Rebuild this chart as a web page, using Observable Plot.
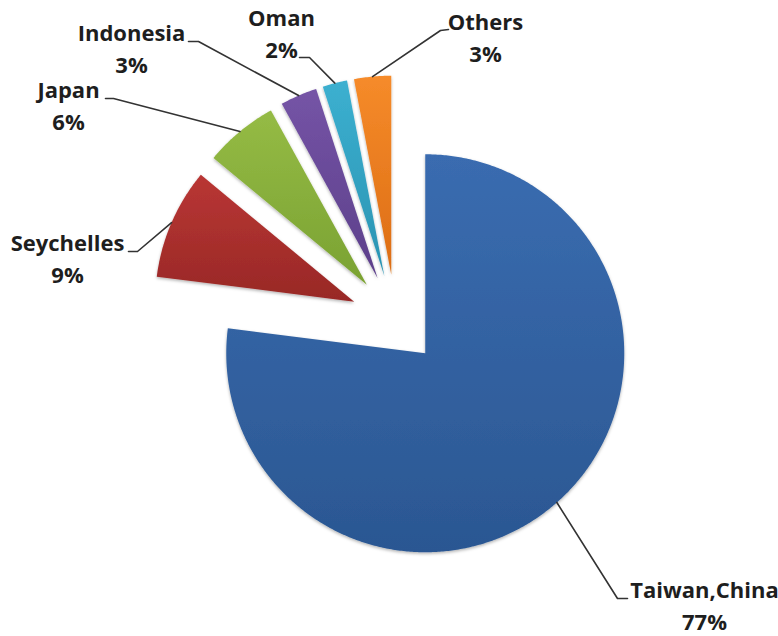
<!DOCTYPE html>
<html>
<head>
<meta charset="utf-8">
<script src="https://cdn.jsdelivr.net/npm/d3@7"></script>
<script src="https://cdn.jsdelivr.net/npm/@observablehq/plot@0.6"></script>
<style>
  html, body { margin: 0; padding: 0; background: #fff; }
  #chart { width: 778px; height: 636px; }
</style>
</head>
<body>
<div id="chart"></div>
<script>
// Share by origin (percent), drawn clockwise from 12 o'clock
const origins = ["Taiwan,China", "Seychelles", "Japan", "Indonesia", "Oman", "Others"];
const shares  = [77, 9, 6, 3, 2, 3];

// Slice shading: top and bottom colour of each vertical gradient
const topColors    = ["#3a6cb0", "#b93634", "#95bb45", "#7554a6", "#3cb0d0", "#f68b2a"];
const bottomColors = ["#2b5792", "#982826", "#7aa232", "#5c3f8a", "#2a93b2", "#dc6d14"];

// Label layout in page pixels: name line centre, and the leader's elbow / end next to the text
const labelX  = [704, 67, 68, 131, 281, 485];
const labelY  = [590, 243, 90, 33, 18, 22];
const elbowX  = [617, 137, 113, 198, 309, 440];
const elbowY  = [598, 251, 98, 41, 57, 30];
const attachX = [627, 128, 105, 188, 299, 448];
const attachY = [598, 251, 98, 41, 57, 29];

const W = 778, H = 636;
const cx = 395, cy = 319;      // pie centre on the page
const radius = 199;
const explode = 45;
const lineGap = 32;

const total = d3.sum(shares);
let acc = 0;
const slices = origins.map((name, i) => {
  const a0 = acc / total * 2 * Math.PI;
  acc += shares[i];
  const a1 = acc / total * 2 * Math.PI;
  const mid = (a0 + a1) / 2;
  return {name, value: shares[i], i, a0, a1, mid,
          ox: explode * Math.sin(mid), oy: explode * Math.cos(mid)};
});

// Polygon outline of each exploded wedge (y points up)
function wedge(s) {
  const pts = [{x: s.ox, y: s.oy}];
  const n = Math.max(4, Math.ceil((s.a1 - s.a0) * 180 / Math.PI * 2));
  for (let k = 0; k <= n; ++k) {
    const a = s.a0 + (s.a1 - s.a0) * k / n;
    pts.push({x: s.ox + radius * Math.sin(a), y: s.oy + radius * Math.cos(a)});
  }
  return pts;
}

const toX = (px) => px - cx;
const toY = (py) => cy - py;

const leaders = slices.flatMap((s) => {
  const ax = s.ox + radius * Math.sin(s.mid);
  const ay = s.oy + radius * Math.cos(s.mid);
  return [
    {name: s.name, x: ax, y: ay},
    {name: s.name, x: toX(elbowX[s.i]), y: toY(elbowY[s.i])},
    {name: s.name, x: toX(attachX[s.i]), y: toY(attachY[s.i])}
  ];
});

const labels = slices.map((s) => ({
  name: s.name,
  pct: `${s.value}%`,
  x: toX(labelX[s.i]),
  y: toY(labelY[s.i]),
  y2: toY(labelY[s.i] + lineGap)
}));

const textStyle = {fontSize: 22, fontWeight: "bold", fill: "#1e1e1e", textAnchor: "middle"};

const svg = Plot.plot({
  width: W,
  height: H,
  margin: 0,
  x: {domain: [-cx, W - cx], axis: null},
  y: {domain: [-(H - cy), cy], axis: null},
  style: {fontFamily: "'Open Sans', sans-serif", background: "#fff", overflow: "visible"},
  marks: [
    ...slices.map((s) =>
      Plot.line(wedge(s), {x: "x", y: "y", fill: `url(#grad-${s.i})`, stroke: "none", curve: "linear-closed"})
    ),
    Plot.line(leaders, {x: "x", y: "y", z: "name", stroke: "#333", strokeWidth: 1.6}),
    Plot.text(labels, {x: "x", y: "y", text: "name", ...textStyle}),
    Plot.text(labels, {x: "x", y: "y2", text: "pct", ...textStyle})
  ]
});

// Gradients and a soft shadow for the wedges
const root = d3.select(svg);
const defs = root.insert("defs", ":first-child");
slices.forEach((s) => {
  const g = defs.append("linearGradient").attr("id", `grad-${s.i}`)
    .attr("x1", 0).attr("y1", 0).attr("x2", 0).attr("y2", 1);
  g.append("stop").attr("offset", "0%").attr("stop-color", topColors[s.i]);
  g.append("stop").attr("offset", "100%").attr("stop-color", bottomColors[s.i]);
});
const f = defs.append("filter").attr("id", "wedge-shadow")
  .attr("x", "-10%").attr("y", "-10%").attr("width", "120%").attr("height", "120%");
f.append("feDropShadow").attr("dx", 0).attr("dy", 1.5).attr("stdDeviation", 1.8)
  .attr("flood-color", "#000").attr("flood-opacity", 0.3);
root.selectAll('g[aria-label="line"]').filter((d, k) => k < slices.length)
  .attr("filter", "url(#wedge-shadow)");

document.getElementById("chart").appendChild(svg);
</script>
</body>
</html>
